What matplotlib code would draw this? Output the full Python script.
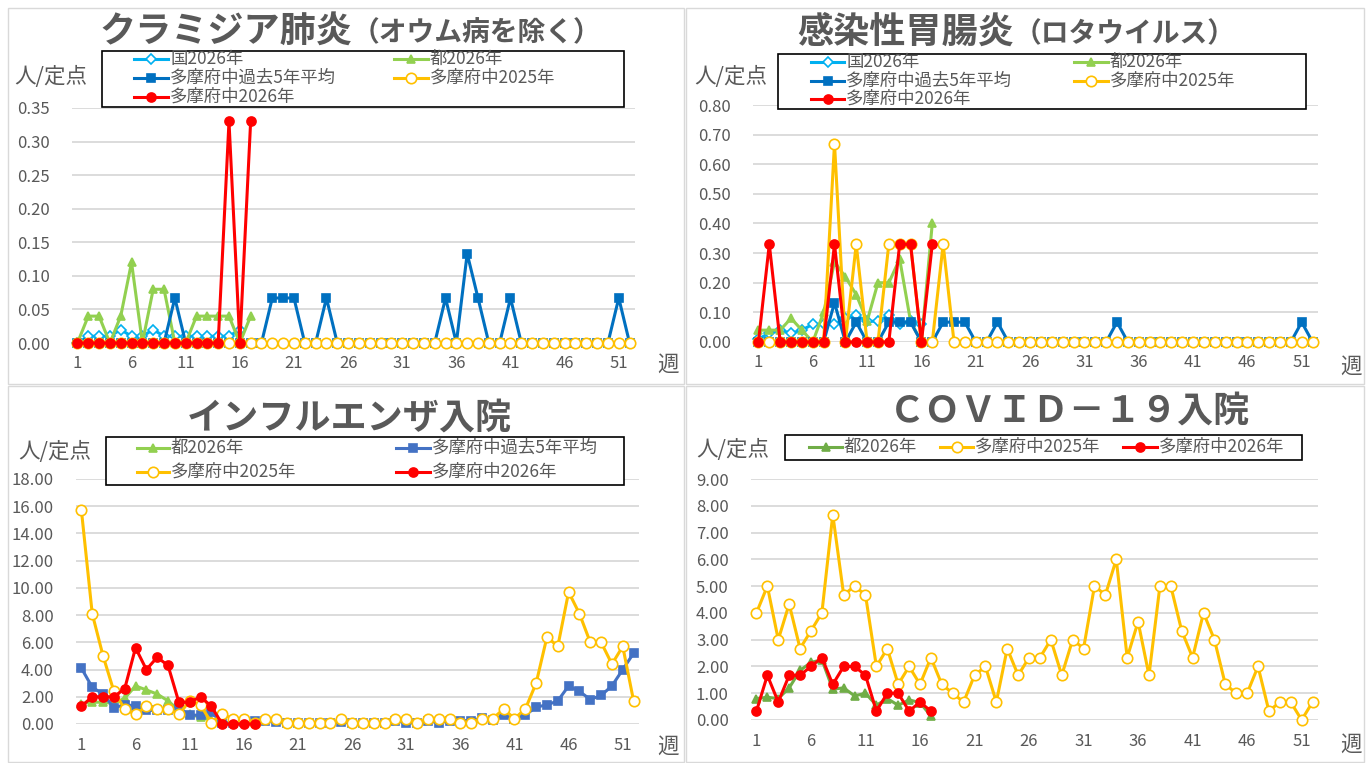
import numpy as np
import matplotlib
matplotlib.use('Agg')
import matplotlib.pyplot as plt
from matplotlib.lines import Line2D
from matplotlib.patches import Rectangle

plt.rcParams['font.family'] = ['Noto Sans CJK JP', 'DejaVu Sans']

# ---- data (week 1..52) ----
weeks = np.arange(1, 53)

# クラミジア肺炎
chl_kuni = [0.00, 0.01, 0.01, 0.01, 0.02, 0.01, 0.01, 0.02, 0.01, 0.01, 0.01, 0.01, 0.01, 0.01, 0.01, 0.02]
chl_to = [0.00, 0.04, 0.04, 0.00, 0.04, 0.12, 0.00, 0.08, 0.08, 0.00, 0.00, 0.04, 0.04, 0.04, 0.04, 0.00, 0.04]
chl_avg = [0, 0, 0, 0, 0, 0, 0, 0, 0, 0.067, 0, 0, 0, 0, 0, 0, 0, 0, 0.067, 0.067,
           0.067, 0, 0, 0.067, 0, 0, 0, 0, 0, 0, 0, 0, 0, 0, 0.067, 0, 0.133, 0.067, 0, 0,
           0.067, 0, 0, 0, 0, 0, 0, 0, 0, 0, 0.067, 0]
chl_2025 = [0.0] * 52
chl_2026 = [0, 0, 0, 0, 0, 0, 0, 0, 0, 0, 0, 0, 0, 0, 0.33, 0, 0.33]

# 感染性胃腸炎（ロタウイルス）
rota_kuni = [0.01, 0.03, 0.04, 0.03, 0.04, 0.06, 0.06, 0.06, 0.08, 0.09, 0.07, 0.07, 0.09, 0.06, 0.07, 0.06]
rota_to = [0.04, 0.04, 0.04, 0.08, 0.04, 0.00, 0.10, 0.27, 0.22, 0.16, 0.07, 0.20, 0.20, 0.28, 0.07, 0.00, 0.40]
rota_avg = [0, 0, 0, 0, 0, 0, 0, 0.133, 0, 0.067, 0, 0, 0.067, 0.067, 0.067, 0, 0, 0.067, 0.067, 0.067,
            0, 0, 0.067, 0, 0, 0, 0, 0, 0, 0, 0, 0, 0, 0.067, 0, 0, 0, 0, 0, 0,
            0, 0, 0, 0, 0, 0, 0, 0, 0, 0, 0.067, 0]
rota_2025 = [0, 0, 0, 0, 0, 0, 0, 0.67, 0, 0.33, 0, 0, 0.33, 0.33, 0.33, 0, 0, 0.33, 0, 0,
             0, 0, 0, 0, 0, 0, 0, 0, 0, 0, 0, 0, 0, 0, 0, 0, 0, 0, 0, 0,
             0, 0, 0, 0, 0, 0, 0, 0, 0, 0, 0, 0]
rota_2026 = [0, 0.33, 0, 0, 0, 0, 0, 0.33, 0, 0, 0, 0, 0, 0.33, 0.33, 0, 0.33]

# インフルエンザ入院
flu_to = [1.5, 1.6, 1.6, 1.5, 1.9, 2.8, 2.5, 2.2, 1.7, 1.0, 0.7, 0.5, 0.3, 0.1]
flu_avg = [4.1, 2.7, 2.2, 1.2, 1.4, 1.35, 1.0, 1.0, 1.0, 1.2, 0.65, 0.65, 0.85, 0.1, 0.1, 0.15, 0.25, 0.25, 0.15, 0.05,
           0.05, 0.05, 0.1, 0.1, 0.15, 0.05, 0.05, 0.05, 0.05, 0.25, 0.1, 0.05, 0.25, 0.1, 0.25, 0.25, 0.25, 0.45, 0.3, 0.65,
           0.4, 0.65, 1.25, 1.4, 1.7, 2.8, 2.4, 1.8, 2.1, 2.8, 4.0, 5.2]
flu_2025 = [15.7, 8.1, 5.0, 2.4, 1.1, 0.7, 1.3, 1.1, 1.1, 0.7, 1.7, 1.4, 0.1, 0.7, 0.4, 0.4, 0.1, 0.4, 0.4, 0.05,
            0.05, 0.05, 0.1, 0.05, 0.4, 0.05, 0.05, 0.05, 0.05, 0.4, 0.4, 0.05, 0.4, 0.4, 0.4, 0.05, 0.05, 0.4, 0.4, 1.1,
            0.4, 1.1, 3.0, 6.4, 5.7, 9.7, 8.1, 6.0, 6.0, 4.4, 5.7, 1.7]
flu_2026 = [1.3, 2.0, 2.0, 2.0, 2.6, 5.6, 4.0, 4.9, 4.3, 1.6, 1.6, 2.0, 1.3, 0, 0, 0, 0]

# COVID-19入院
cov_to = [0.8, 0.85, 0.8, 1.2, 1.85, 2.15, 2.25, 1.15, 1.2, 0.9, 1.0, 0.55, 0.8, 0.55, 0.75, 0.65, 0.15]
cov_2025 = [4.0, 5.0, 3.0, 4.33, 2.67, 3.33, 4.0, 7.67, 4.67, 5.0, 4.67, 2.0, 2.67, 1.33, 2.0, 1.33, 2.33, 1.33, 1.0, 0.67,
            1.67, 2.0, 0.67, 2.67, 1.67, 2.33, 2.33, 3.0, 1.67, 3.0, 2.67, 5.0, 4.67, 6.0, 2.33, 3.67, 1.67, 5.0, 5.0, 3.33,
            2.33, 4.0, 3.0, 1.33, 1.0, 1.0, 2.0, 0.33, 0.67, 0.67, 0.0, 0.67]
cov_2026 = [0.33, 1.67, 0.67, 1.67, 1.67, 2.0, 2.33, 1.33, 2.0, 2.0, 1.67, 0.33, 1.0, 1.0, 0.33, 0.67, 0.33]

# ---- styles ----
GRAY = '#595959'
STY = {
    '国2026年': dict(color='#00B0F0', marker='D', hollow=True, ms=5.5),
    '都2026年': dict(color='#92D050', marker='^', hollow=False, ms=6),
    '多摩府中過去5年平均': dict(color='#0070C0', marker='s', hollow=False, ms=5.5),
    '多摩府中2025年': dict(color='#FFC000', marker='o', hollow=True, ms=7.5),
    '多摩府中2026年': dict(color='#FF0000', marker='o', hollow=False, ms=6.5),
}

W, H = 1368, 763
fig = plt.figure(figsize=(W / 100, H / 100), dpi=100)


def fx(x):
    return x / W


def fy(y):
    return 1 - y / H


def style_of(name, override):
    s = dict(STY[name])
    if name in override:
        s['color'] = override[name]
    return s


def draw_series(ax, name, values, z, override):
    s = style_of(name, override)
    ax.plot(weeks[:len(values)], values, color=s['color'], lw=2.2, marker=s['marker'], ms=s['ms'],
            mfc='white' if s['hollow'] else s['color'], mec=s['color'], mew=1.2,
            clip_on=False, zorder=z)


def legend_item(name, x0, x1, y, override):
    s = style_of(name, override)
    xm = (x0 + x1) / 2
    fig.add_artist(Line2D([fx(x0), fx(xm), fx(x1)], [fy(y)] * 3, transform=fig.transFigure,
                          color=s['color'], lw=2.2, marker=s['marker'], markevery=[1], ms=s['ms'],
                          mfc='white' if s['hollow'] else s['color'], mec=s['color'], mew=1.2, zorder=5))
    fig.text(fx(x1 + 2), fy(y), name, ha='left', va='center', fontsize=12.5, color=GRAY, zorder=6)


def panel(box, plot, ymax, ystep, series, title, legend, unit_xy, week_xy, override={}):
    # chart area border
    x0, y0, x1, y1 = box
    fig.add_artist(Rectangle((fx(x0), fy(y1)), (x1 - x0) / W, (y1 - y0) / H, transform=fig.transFigure,
                             fill=False, edgecolor='#D9D9D9', lw=1, zorder=0.5))
    l, t, r, b = plot
    ax = fig.add_axes([fx(l), fy(b), (r - l) / W, (b - t) / H])
    for i, (name, vals) in enumerate(series):
        draw_series(ax, name, vals, 2 + i, override)
    ax.set_xlim(0.5, 52.5)
    ax.set_ylim(0, ymax)
    ax.set_yticks(np.arange(0, ymax + ystep / 2, ystep))
    ax.yaxis.set_major_formatter('{x:.2f}')
    ax.set_xticks(range(1, 53, 5))
    ax.grid(axis='y', color='#D9D9D9', lw=1.3)
    ax.set_axisbelow(True)
    for sp in ax.spines.values():
        sp.set_visible(False)
    ax.tick_params(axis='y', length=0, labelsize=12, labelcolor=GRAY, pad=16)
    ax.tick_params(axis='x', length=0, labelsize=12, labelcolor=GRAY, pad=9)

    # title (big part + optional smaller part)
    big, small, tx, ty = title
    if small:
        fig.text(fx(tx), fy(ty), big, ha='right', va='center', fontsize=26, fontweight='bold', color=GRAY)
        fig.text(fx(tx), fy(ty + 2), small, ha='left', va='center', fontsize=20, fontweight='bold', color=GRAY)
    else:
        fig.text(fx(tx), fy(ty), big, ha='center', va='center', fontsize=26, fontweight='bold', color=GRAY)

    # legend box and entries
    lbox, items = legend
    bx0, by0, bx1, by1 = lbox
    fig.add_artist(Rectangle((fx(bx0), fy(by1)), (bx1 - bx0) / W, (by1 - by0) / H, transform=fig.transFigure,
                             facecolor='white', edgecolor='black', lw=1.2, zorder=4))
    for name, hx0, hx1, hy in items:
        legend_item(name, hx0, hx1, hy, override)

    fig.text(fx(unit_xy[0]), fy(unit_xy[1]), '人/定点', ha='center', va='center', fontsize=15.5, color=GRAY)
    fig.text(fx(week_xy[0]), fy(week_xy[1]), '週', ha='center', va='center', fontsize=15.5, color=GRAY)
    return ax


panel(box=(8, 8, 684, 384), plot=(72, 108, 635, 343), ymax=0.35, ystep=0.05,
      series=[('国2026年', chl_kuni), ('都2026年', chl_to), ('多摩府中過去5年平均', chl_avg),
              ('多摩府中2025年', chl_2025), ('多摩府中2026年', chl_2026)],
      title=('クラミジア肺炎', '（オウム病を除く）', 352, 31),
      legend=((102, 51, 624, 107),
              [('国2026年', 134, 168, 59), ('多摩府中過去5年平均', 134, 168, 78), ('多摩府中2026年', 134, 168, 97),
               ('都2026年', 394, 428, 59), ('多摩府中2025年', 394, 428, 78)]),
      unit_xy=(51, 77), week_xy=(668, 365))

panel(box=(686, 8, 1364, 384), plot=(753, 105, 1318, 342), ymax=0.80, ystep=0.10,
      series=[('国2026年', rota_kuni), ('都2026年', rota_to), ('多摩府中過去5年平均', rota_avg),
              ('多摩府中2025年', rota_2025), ('多摩府中2026年', rota_2026)],
      title=('感染性胃腸炎', '（ロタウイルス）', 1014, 32),
      legend=((778, 54, 1306, 109),
              [('国2026年', 811, 844, 62), ('多摩府中過去5年平均', 811, 844, 81), ('多摩府中2026年', 811, 844, 99),
               ('都2026年', 1074, 1108, 62), ('多摩府中2025年', 1074, 1108, 81)]),
      unit_xy=(731, 77), week_xy=(1351, 367))

panel(box=(8, 386, 684, 762), plot=(76, 479, 639, 724), ymax=18, ystep=2,
      series=[('都2026年', flu_to), ('多摩府中過去5年平均', flu_avg),
              ('多摩府中2025年', flu_2025), ('多摩府中2026年', flu_2026)],
      title=('インフルエンザ入院', None, 349, 418),
      legend=((106, 437, 624, 485),
              [('都2026年', 137, 169, 448), ('多摩府中2025年', 137, 169, 472),
               ('多摩府中過去5年平均', 396, 430, 448), ('多摩府中2026年', 396, 430, 472)]),
      unit_xy=(55, 452), week_xy=(668, 747), override={'多摩府中過去5年平均': '#4472C4'})

panel(box=(686, 386, 1364, 762), plot=(751, 479, 1318, 720), ymax=9, ystep=1,
      series=[('都2026年', cov_to), ('多摩府中2025年', cov_2025), ('多摩府中2026年', cov_2026)],
      title=('ＣＯＶＩＤ－１９入院', None, 1070, 411),
      legend=((785, 435, 1302, 460),
              [('都2026年', 809, 842, 447), ('多摩府中2025年', 940, 973, 447), ('多摩府中2026年', 1123, 1157, 447)]),
      unit_xy=(733, 450), week_xy=(1351, 745), override={'都2026年': '#70AD47'})

fig.savefig('out.png', dpi=100, facecolor='white')
